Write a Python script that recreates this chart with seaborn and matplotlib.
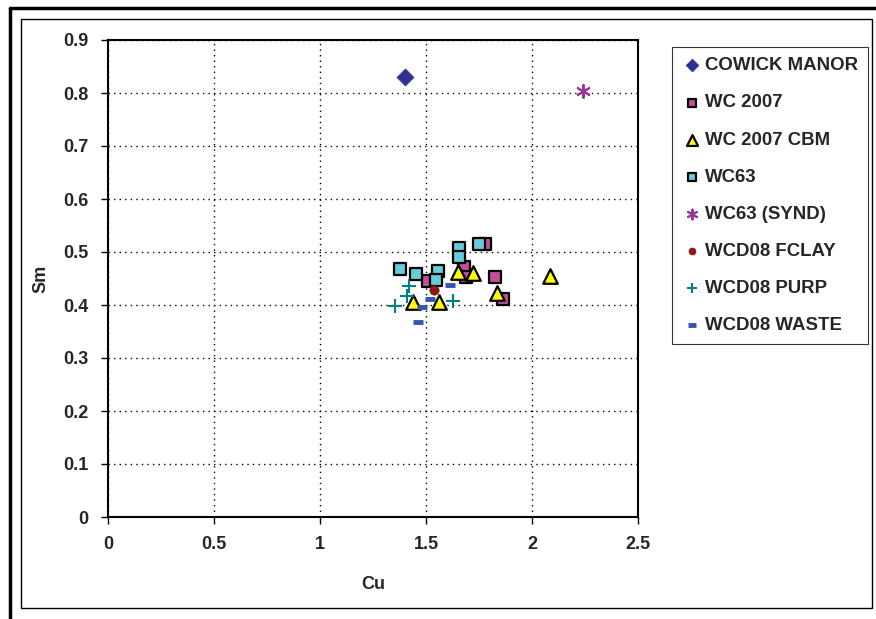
import matplotlib
matplotlib.use("Agg")
import matplotlib.pyplot as plt
from matplotlib.patches import Rectangle
from matplotlib.lines import Line2D
import seaborn as sns

# series (Cu, Sm)
series_names = ["COWICK MANOR", "WC 2007", "WC 2007 CBM", "WC63", "WC63 (SYND)",
                "WCD08 FCLAY", "WCD08 PURP", "WCD08 WASTE"]

cowick_cu = [1.40]
cowick_sm = [0.830]

wc2007_cu = [1.51, 1.68, 1.69, 1.78, 1.825, 1.865]
wc2007_sm = [0.445, 0.472, 0.453, 0.515, 0.453, 0.411]

cbm_cu = [1.65, 1.72, 1.835, 1.44, 1.56, 2.085]
cbm_sm = [0.463, 0.460, 0.423, 0.406, 0.406, 0.455]

wc63_cu = [1.377, 1.453, 1.555, 1.547, 1.656, 1.656, 1.750]
wc63_sm = [0.468, 0.458, 0.464, 0.447, 0.507, 0.491, 0.515]

synd_cu = [2.24]
synd_sm = [0.804]

fclay_cu = [1.54]
fclay_sm = [0.428]

purp_cu = [1.42, 1.41, 1.355, 1.627]
purp_sm = [0.436, 0.417, 0.399, 0.407]

waste_cu = [1.613, 1.52, 1.48, 1.462]
waste_sm = [0.438, 0.411, 0.396, 0.368]

x_ticks = [0, 0.5, 1, 1.5, 2, 2.5]
y_ticks = [0, 0.1, 0.2, 0.3, 0.4, 0.5, 0.6, 0.7, 0.8, 0.9]

sns.set_style("white")
plt.rcParams["font.family"] = ["Liberation Sans", "DejaVu Sans"]
plt.rcParams["font.weight"] = "bold"

W, H = 876, 619
fig = plt.figure(figsize=(W / 100, H / 100), dpi=100)
ax = fig.add_axes([108 / W, 1 - 517 / H, (638 - 108) / W, (517 - 40) / H])

styles = [
    (cowick_cu, cowick_sm, dict(marker="D", color="#2E3192", s=75, edgecolor="#2E3192", linewidth=0.5)),
    (wc2007_cu, wc2007_sm, dict(marker="s", color="#C0509A", s=70, edgecolor="black", linewidth=1.6)),
    (cbm_cu, cbm_sm, dict(marker="^", color="#FFFF00", s=110, edgecolor="black", linewidth=1.6)),
    (wc63_cu, wc63_sm, dict(marker="s", color="#66CCDD", s=70, edgecolor="black", linewidth=1.6)),
    (synd_cu, synd_sm, dict(marker=(6, 2, 0), color="#993399", s=90, linewidth=1.4)),
    (fclay_cu, fclay_sm, dict(marker="o", color="#8B1A1A", s=45, edgecolor="#8B1A1A", linewidth=0.5)),
    (purp_cu, purp_sm, dict(marker="+", color="#008080", s=90, linewidth=1.5)),
    (waste_cu, waste_sm, dict(marker="_", color="#3355AA", s=50, linewidth=3.5)),
]

for name, (cu, sm, kw) in zip(series_names, styles):
    sns.scatterplot(x=cu, y=sm, ax=ax, label=name, zorder=3, **kw)

ax.set_xlim(0, 2.5)
ax.set_ylim(0, 0.9)
ax.set_xticks(x_ticks)
ax.set_xticklabels(["0", "0.5", "1", "1.5", "2", "2.5"])
ax.set_yticks(y_ticks)
ax.set_yticklabels(["0", "0.1", "0.2", "0.3", "0.4", "0.5", "0.6", "0.7", "0.8", "0.9"])
ax.grid(True, linestyle=(0, (1, 3)), color="black", linewidth=1.0)
ax.tick_params(axis="both", direction="out", length=5, width=1, color="black",
               labelsize=13, pad=9, left=True, bottom=True)
for lab in ax.get_xticklabels() + ax.get_yticklabels():
    lab.set_fontweight("bold")
for sp in ax.spines.values():
    sp.set_color("black")
    sp.set_linewidth(1.5)

ax.set_xlabel("Cu", fontsize=13, fontweight="bold", labelpad=16)
ax.set_ylabel("Sm", fontsize=13, fontweight="bold", labelpad=10)

leg = ax.legend(loc="upper left", bbox_to_anchor=(672 / W, 1 - 47 / H),
                bbox_transform=fig.transFigure, frameon=True, fancybox=False,
                markerscale=0.75, labelspacing=1.08,
                handletextpad=0.2, handlelength=1.0, borderpad=0.55,
                borderaxespad=0, prop={"weight": "bold", "size": 13.4})
leg.get_frame().set_edgecolor("black")
leg.get_frame().set_linewidth(0.8)

# inner frame and heavy outer edge
fig.patches.append(Rectangle((21 / W, 1 - 608 / H), (872 - 21) / W, (608 - 19) / H,
                             transform=fig.transFigure, fill=False,
                             edgecolor="black", linewidth=1.0))
fig.lines.append(Line2D([9.5 / W, 1], [1 - 8 / H, 1 - 8 / H], transform=fig.transFigure,
                        color="black", linewidth=2.5))
fig.lines.append(Line2D([9.5 / W, 9.5 / W], [0, 1 - 8 / H], transform=fig.transFigure,
                        color="black", linewidth=2.5))

fig.savefig("out.png", dpi=100)
